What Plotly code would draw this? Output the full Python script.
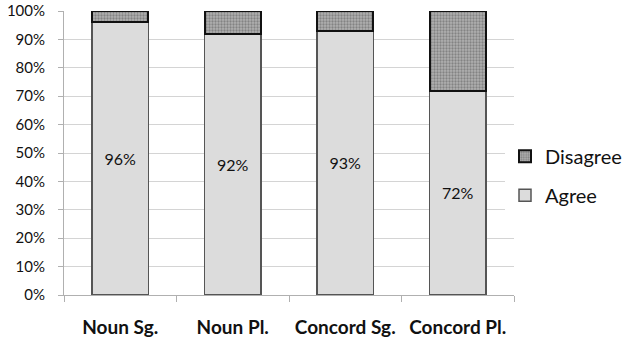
import plotly.graph_objects as go

categories = ["Noun Sg.", "Noun Pl.", "Concord Sg.", "Concord Pl."]
agree = [96, 92, 93, 72]
disagree = [4, 8, 7, 28]
agree_labels = ["96%", "92%", "93%", "72%"]
y_ticks = [0, 10, 20, 30, 40, 50, 60, 70, 80, 90, 100]
y_tick_labels = [f"{v}%" for v in y_ticks]

FONT = "Lato, 'Open Sans', sans-serif"

fig = go.Figure()
fig.add_trace(go.Bar(
    x=categories, y=agree, name="Agree",
    marker=dict(color="#dcdcdc", line=dict(color="#555555", width=1.5)),
    text=agree_labels, textposition="inside", insidetextanchor="middle",
    textangle=0, textfont=dict(size=16, color="#111111", family=FONT),
    width=0.5, legendgroup="a", legendrank=2,
))
fig.add_trace(go.Bar(
    x=categories, y=disagree, name="Disagree",
    marker=dict(color="#a0a0a0", line=dict(color="#111111", width=2),
                pattern=dict(shape=".", bgcolor="#b0b0b0", fgcolor="#555555",
                             size=3, solidity=0.45)),
    width=0.5, legendgroup="d", legendrank=1,
))

fig.update_layout(
    barmode="stack",
    width=638, height=343,
    margin=dict(l=64, r=124, t=11, b=48, autoexpand=False),
    paper_bgcolor="white", plot_bgcolor="white",
    font=dict(family=FONT, color="#111111"),
    showlegend=True,
    legend=dict(x=0.98, xanchor="left", y=0.42, yanchor="middle",
                traceorder="grouped", tracegroupgap=10,
                font=dict(size=20, family=FONT), itemwidth=30),
    bargap=0.5,
)
fig.update_yaxes(
    range=[0, 100], tickvals=y_ticks, ticktext=y_tick_labels,
    showgrid=True, gridcolor="#d4d4d4", gridwidth=1,
    showline=True, linecolor="#b0b0b0", linewidth=1,
    ticks="outside", ticklen=5, tickcolor="#b0b0b0",
    tickfont=dict(size=15, family=FONT, color="#111111"),
    zeroline=False, automargin=False, ticklabelstandoff=10,
)
fig.update_xaxes(
    showline=True, linecolor="#b0b0b0", linewidth=1,
    ticks="outside", ticklen=6, tickcolor="#b0b0b0", tickson="boundaries",
    tickangle=0,
    tickfont=dict(size=19, family=FONT, color="#111111", weight="bold"),
    ticklabelstandoff=15, automargin=False,
)

fig.write_html("out.html", config={"displayModeBar": False},
               post_script="document.body.style.margin='0';")
